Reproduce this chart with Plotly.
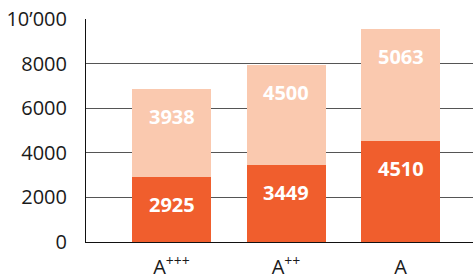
import plotly.graph_objects as go

categories = ["A<sup>+++</sup>", "A<sup>++</sup>", "A"]
base_values = [2925, 3449, 4510]
top_values = [3938, 4500, 5063]
ytick_vals = [0, 2000, 4000, 6000, 8000, 10000]
ytick_text = ["0", "2000", "4000", "6000", "8000", "10’000"]

dark = "#F05E2D"
light = "#FAC9AF"
FONT = "Open Sans"

fig = go.Figure()
fig.add_bar(x=categories, y=base_values, marker_color=dark, marker_line_width=0,
            width=0.69, hoverinfo="skip")
fig.add_bar(x=categories, y=top_values, marker_color=light, marker_line_width=0,
            width=0.69, hoverinfo="skip")

annotations = []
for i, c in enumerate(categories):
    for y, v in ((base_values[i], base_values[i]),
                 (base_values[i] + top_values[i], top_values[i])):
        annotations.append(dict(
            x=c, y=y, xref="x", yref="y", text=f"<b>{v}</b>", showarrow=False,
            yanchor="top", yshift=-12,
            font=dict(family=FONT, size=20, color="white")))

fig.update_layout(
    barmode="stack",
    width=473, height=276,
    margin=dict(l=86, r=0, t=19, b=34, autoexpand=False),
    paper_bgcolor="white", plot_bgcolor="white",
    showlegend=False,
    bargap=0,
    annotations=annotations,
    font=dict(family=FONT, size=20, color="#1a1a1a"),
    xaxis=dict(type="category", range=[-0.747, 2.633], showline=True,
               linecolor="#111", linewidth=1, showgrid=False, ticks="",
               automargin=False, ticklabelstandoff=7,
               tickfont=dict(family=FONT, size=20, color="#1a1a1a")),
    yaxis=dict(range=[0, 10000], tickvals=ytick_vals, ticktext=ytick_text,
               showline=True, linecolor="#111", linewidth=1, showgrid=True,
               gridcolor="#555", gridwidth=1, zeroline=False, ticks="",
               ticklabelstandoff=14, automargin=False,
               tickfont=dict(family=FONT, size=20, color="#1a1a1a")),
)

fig.write_html("out.html", config={"displayModeBar": False},
               post_script="document.body.style.margin='0';document.body.style.overflow='hidden';")
